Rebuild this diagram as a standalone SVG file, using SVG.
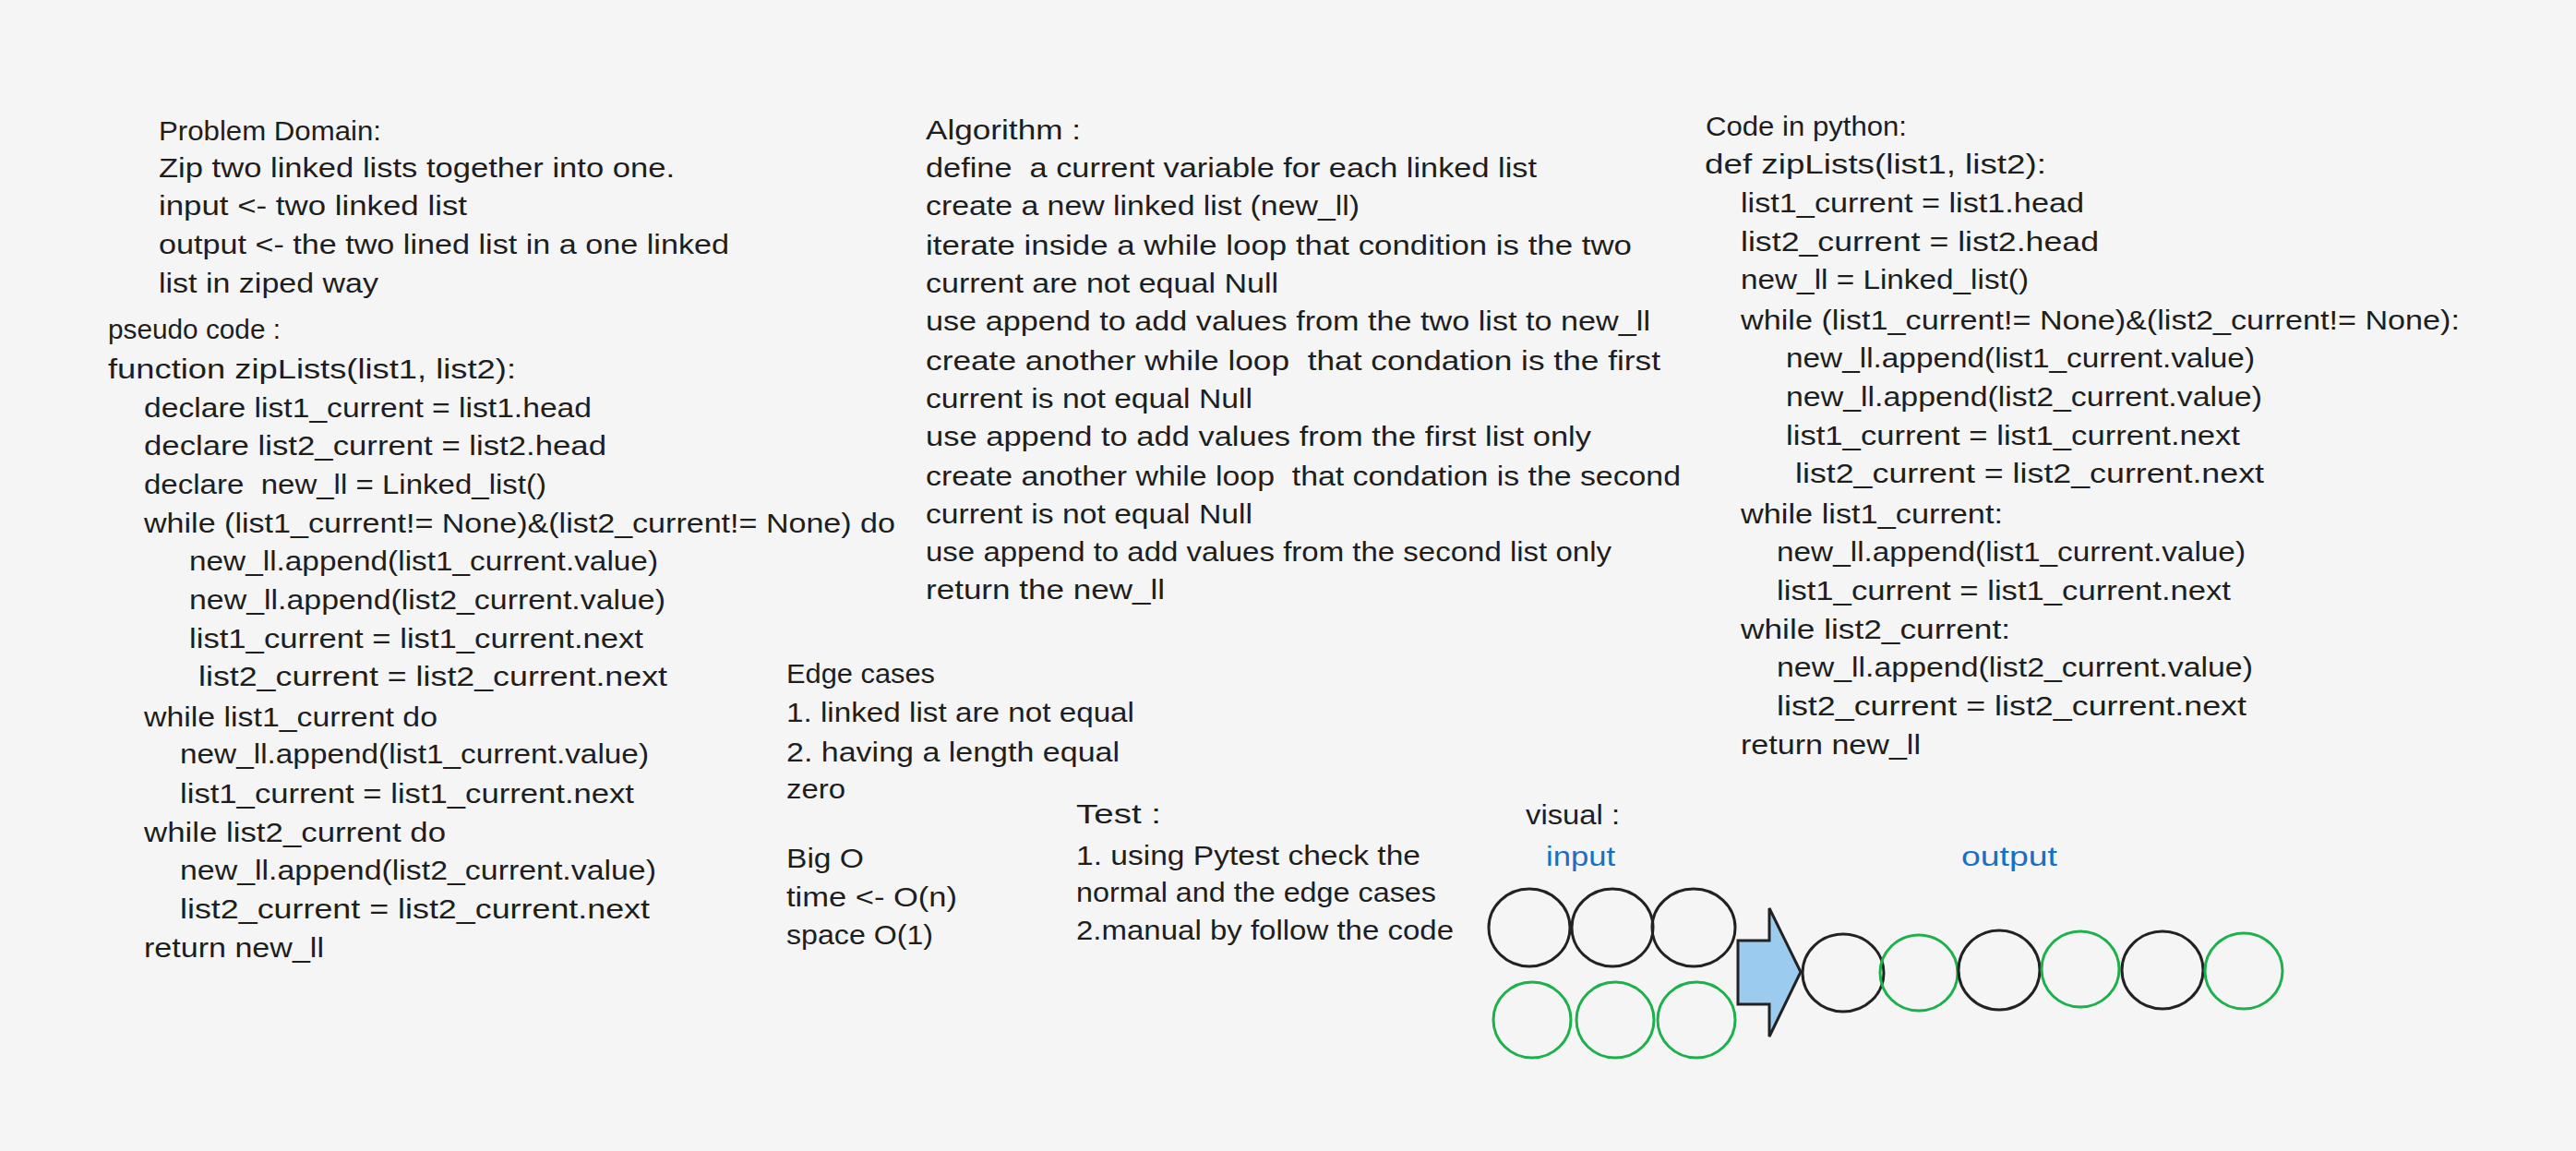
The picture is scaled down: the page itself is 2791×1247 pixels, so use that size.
<svg xmlns="http://www.w3.org/2000/svg" width="2791" height="1247" viewBox="0 0 2791 1247">
<style>
text{font-family:"Liberation Sans","DejaVu Sans",sans-serif;font-size:30px;fill:#1e1e1e;white-space:pre}
text.blue{fill:#1a6fc4}
.cb{fill:none;stroke:#222;stroke-width:3}
.cg{fill:none;stroke:#1db14b;stroke-width:3}
.arrow{fill:#9ccbf0;stroke:#222;stroke-width:3;stroke-linejoin:miter}
</style>
<rect width="2791" height="1247" fill="#f5f5f5"/>
<g id="problem-domain">
<text x="172" y="152" textLength="241" lengthAdjust="spacingAndGlyphs">Problem Domain:</text>
<text x="172" y="192" textLength="559" lengthAdjust="spacingAndGlyphs">Zip two linked lists together into one.</text>
<text x="172" y="233" textLength="334" lengthAdjust="spacingAndGlyphs">input &lt;- two linked list</text>
<text x="172" y="275" textLength="618" lengthAdjust="spacingAndGlyphs">output &lt;- the two lined list in a one linked</text>
<text x="172" y="317" textLength="238" lengthAdjust="spacingAndGlyphs">list in ziped way</text>
</g>
<g id="pseudo-code">
<text x="117" y="367" textLength="187" lengthAdjust="spacingAndGlyphs">pseudo code :</text>
<text x="117" y="410" textLength="442" lengthAdjust="spacingAndGlyphs">function zipLists(list1, list2):</text>
<text x="156" y="452" textLength="485" lengthAdjust="spacingAndGlyphs">declare list1_current = list1.head</text>
<text x="156" y="493" textLength="501" lengthAdjust="spacingAndGlyphs">declare list2_current = list2.head</text>
<text x="156" y="535" textLength="436" lengthAdjust="spacingAndGlyphs">declare  new_ll = Linked_list()</text>
<text x="156" y="577" textLength="814" lengthAdjust="spacingAndGlyphs">while (list1_current!= None)&amp;(list2_current!= None) do</text>
<text x="205" y="618" textLength="508" lengthAdjust="spacingAndGlyphs">new_ll.append(list1_current.value)</text>
<text x="205" y="660" textLength="516" lengthAdjust="spacingAndGlyphs">new_ll.append(list2_current.value)</text>
<text x="205" y="702" textLength="492" lengthAdjust="spacingAndGlyphs">list1_current = list1_current.next</text>
<text x="215" y="743" textLength="508" lengthAdjust="spacingAndGlyphs">list2_current = list2_current.next</text>
<text x="156" y="787" textLength="318" lengthAdjust="spacingAndGlyphs">while list1_current do</text>
<text x="195" y="827" textLength="508" lengthAdjust="spacingAndGlyphs">new_ll.append(list1_current.value)</text>
<text x="195" y="870" textLength="492" lengthAdjust="spacingAndGlyphs">list1_current = list1_current.next</text>
<text x="156" y="912" textLength="327" lengthAdjust="spacingAndGlyphs">while list2_current do</text>
<text x="195" y="953" textLength="516" lengthAdjust="spacingAndGlyphs">new_ll.append(list2_current.value)</text>
<text x="195" y="995" textLength="509" lengthAdjust="spacingAndGlyphs">list2_current = list2_current.next</text>
<text x="156" y="1037" textLength="195" lengthAdjust="spacingAndGlyphs">return new_ll</text>
</g>
<g id="algorithm">
<text x="1003" y="151" textLength="168" lengthAdjust="spacingAndGlyphs">Algorithm :</text>
<text x="1003" y="192" textLength="662" lengthAdjust="spacingAndGlyphs">define  a current variable for each linked list</text>
<text x="1003" y="233" textLength="470" lengthAdjust="spacingAndGlyphs">create a new linked list (new_ll)</text>
<text x="1003" y="276" textLength="765" lengthAdjust="spacingAndGlyphs">iterate inside a while loop that condition is the two</text>
<text x="1003" y="317" textLength="382" lengthAdjust="spacingAndGlyphs">current are not equal Null</text>
<text x="1003" y="358" textLength="785" lengthAdjust="spacingAndGlyphs">use append to add values from the two list to new_ll</text>
<text x="1003" y="401" textLength="796" lengthAdjust="spacingAndGlyphs">create another while loop  that condation is the first</text>
<text x="1003" y="442" textLength="354" lengthAdjust="spacingAndGlyphs">current is not equal Null</text>
<text x="1003" y="483" textLength="721" lengthAdjust="spacingAndGlyphs">use append to add values from the first list only</text>
<text x="1003" y="526" textLength="818" lengthAdjust="spacingAndGlyphs">create another while loop  that condation is the second</text>
<text x="1003" y="567" textLength="354" lengthAdjust="spacingAndGlyphs">current is not equal Null</text>
<text x="1003" y="608" textLength="743" lengthAdjust="spacingAndGlyphs">use append to add values from the second list only</text>
<text x="1003" y="649" textLength="259" lengthAdjust="spacingAndGlyphs">return the new_ll</text>
</g>
<g id="python-code">
<text x="1848" y="147" textLength="218" lengthAdjust="spacingAndGlyphs">Code in python:</text>
<text x="1847" y="188" textLength="370" lengthAdjust="spacingAndGlyphs">def zipLists(list1, list2):</text>
<text x="1886" y="230" textLength="372" lengthAdjust="spacingAndGlyphs">list1_current = list1.head</text>
<text x="1886" y="272" textLength="388" lengthAdjust="spacingAndGlyphs">list2_current = list2.head</text>
<text x="1886" y="313" textLength="312" lengthAdjust="spacingAndGlyphs">new_ll = Linked_list()</text>
<text x="1886" y="357" textLength="779" lengthAdjust="spacingAndGlyphs">while (list1_current!= None)&amp;(list2_current!= None):</text>
<text x="1935" y="398" textLength="508" lengthAdjust="spacingAndGlyphs">new_ll.append(list1_current.value)</text>
<text x="1935" y="440" textLength="516" lengthAdjust="spacingAndGlyphs">new_ll.append(list2_current.value)</text>
<text x="1935" y="482" textLength="492" lengthAdjust="spacingAndGlyphs">list1_current = list1_current.next</text>
<text x="1945" y="523" textLength="508" lengthAdjust="spacingAndGlyphs">list2_current = list2_current.next</text>
<text x="1886" y="567" textLength="284" lengthAdjust="spacingAndGlyphs">while list1_current:</text>
<text x="1925" y="608" textLength="508" lengthAdjust="spacingAndGlyphs">new_ll.append(list1_current.value)</text>
<text x="1925" y="650" textLength="492" lengthAdjust="spacingAndGlyphs">list1_current = list1_current.next</text>
<text x="1886" y="692" textLength="292" lengthAdjust="spacingAndGlyphs">while list2_current:</text>
<text x="1925" y="733" textLength="516" lengthAdjust="spacingAndGlyphs">new_ll.append(list2_current.value)</text>
<text x="1925" y="775" textLength="509" lengthAdjust="spacingAndGlyphs">list2_current = list2_current.next</text>
<text x="1886" y="817" textLength="195" lengthAdjust="spacingAndGlyphs">return new_ll</text>
</g>
<g id="edge-cases">
<text x="852" y="740" textLength="161" lengthAdjust="spacingAndGlyphs">Edge cases</text>
<text x="852" y="782" textLength="377" lengthAdjust="spacingAndGlyphs">1. linked list are not equal</text>
<text x="852" y="825" textLength="361" lengthAdjust="spacingAndGlyphs">2. having a length equal</text>
<text x="852" y="865" textLength="64" lengthAdjust="spacingAndGlyphs">zero</text>
</g>
<g id="big-o">
<text x="852" y="940" textLength="84" lengthAdjust="spacingAndGlyphs">Big O</text>
<text x="852" y="982" textLength="185" lengthAdjust="spacingAndGlyphs">time &lt;- O(n)</text>
<text x="852" y="1023" textLength="159" lengthAdjust="spacingAndGlyphs">space O(1)</text>
</g>
<g id="test">
<text x="1166" y="892" textLength="92" lengthAdjust="spacingAndGlyphs">Test :</text>
<text x="1166" y="937" textLength="373" lengthAdjust="spacingAndGlyphs">1. using Pytest check the</text>
<text x="1166" y="977" textLength="390" lengthAdjust="spacingAndGlyphs">normal and the edge cases</text>
<text x="1166" y="1018" textLength="409" lengthAdjust="spacingAndGlyphs">2.manual by follow the code</text>
</g>
<g id="visual">
<text x="1653" y="893" textLength="102" lengthAdjust="spacingAndGlyphs">visual :</text>
<text class="blue" x="1675" y="938" textLength="75" lengthAdjust="spacingAndGlyphs">input</text>
<text class="blue" x="2125" y="938" textLength="104" lengthAdjust="spacingAndGlyphs">output</text>
</g>
<g id="input-list1">
<ellipse class="cb" cx="1657" cy="1005" rx="44" ry="42"/>
<ellipse class="cb" cx="1747" cy="1005" rx="44" ry="42"/>
<ellipse class="cb" cx="1835" cy="1005" rx="45" ry="42"/>
</g>
<g id="input-list2">
<ellipse class="cg" cx="1660" cy="1105" rx="42" ry="41"/>
<ellipse class="cg" cx="1750" cy="1105" rx="42" ry="41"/>
<ellipse class="cg" cx="1838" cy="1105" rx="42" ry="41"/>
</g>
<g id="connectors">
<polygon class="arrow" points="1883,1019 1917,1019 1917,984 1951,1053 1917,1123 1917,1088 1883,1088"/>
</g>
<g id="output-list">
<ellipse class="cb" cx="1997" cy="1054" rx="44" ry="42"/>
<ellipse class="cg" cx="2079" cy="1054" rx="42" ry="41"/>
<ellipse class="cb" cx="2166" cy="1051" rx="44" ry="43"/>
<ellipse class="cg" cx="2254" cy="1050" rx="42" ry="41"/>
<ellipse class="cb" cx="2343" cy="1051" rx="44" ry="42"/>
<ellipse class="cg" cx="2431" cy="1052" rx="42" ry="41"/>
</g>
</svg>
